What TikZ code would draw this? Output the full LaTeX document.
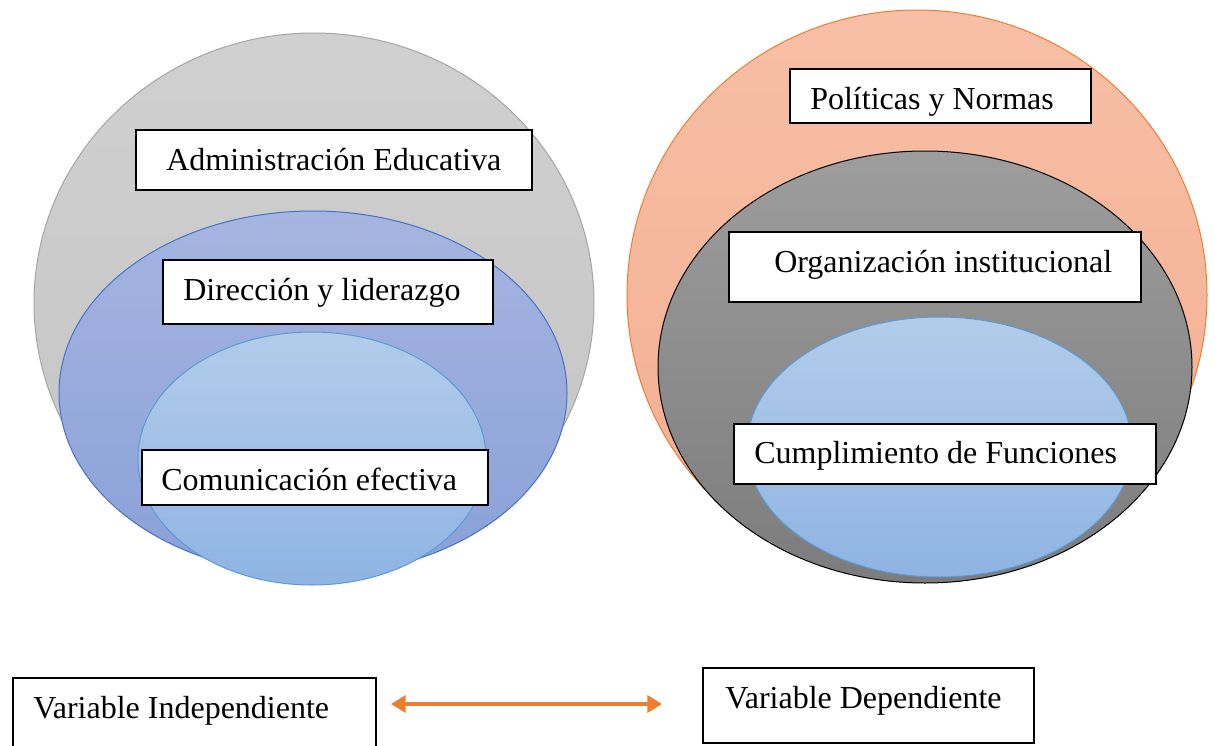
\documentclass[tikz,border=0pt]{standalone}
\usepackage{fontspec}
\setmainfont{Liberation Serif}
\usetikzlibrary{arrows.meta}
\definecolor{grayT}{RGB}{208,208,208}
\definecolor{grayB}{RGB}{196,196,196}
\definecolor{grayE}{RGB}{166,166,166}
\definecolor{blueT}{RGB}{166,181,225}
\definecolor{blueB}{RGB}{138,160,215}
\definecolor{blueE}{RGB}{68,114,196}
\definecolor{lblueT}{RGB}{178,204,234}
\definecolor{lblueB}{RGB}{143,180,227}
\definecolor{lblueE}{RGB}{91,155,213}
\definecolor{orT}{RGB}{247,191,166}
\definecolor{orB}{RGB}{243,174,144}
\definecolor{orE}{RGB}{237,125,49}
\definecolor{dgT}{RGB}{157,157,157}
\definecolor{dgB}{RGB}{124,124,124}
\tikzset{
  boxnode/.style={draw=black, line width=1.5pt, fill=white, rectangle, inner sep=0pt, anchor=north west},
  txt/.style={anchor=base west, inner sep=0pt, font=\fontsize{24}{28}\selectfont},
  twoway/.style={draw=orE, line width=3pt, {Triangle[width=12.75pt,length=11pt]}-{Triangle[width=12.75pt,length=11pt]}},
}
\begin{document}
\begin{tikzpicture}[x=0.75pt,y=-0.75pt]
\useasboundingbox (0,0) rectangle (1215,746);
\clip (0,0) rectangle (1215,746);
\fill[white] (0,0) rectangle (1215,746);
% left group
\shadedraw[top color=grayT, bottom color=grayB, draw=grayE, line width=0.75pt] (314,303) ellipse [x radius=210pt, y radius=202.5pt];
\shadedraw[top color=blueT, bottom color=blueB, draw=blueE, line width=0.75pt] (313,393) ellipse [x radius=190.5pt, y radius=136.5pt];
\shadedraw[top color=lblueT, bottom color=lblueB, draw=lblueE, line width=0.75pt] (312,458.5) ellipse [x radius=130.5pt, y radius=94.875pt];
% right group
\shadedraw[top color=orT, bottom color=orB, draw=orE, line width=0.75pt] (917,295) ellipse [x radius=217.5pt, y radius=213.75pt];
\shadedraw[top color=dgT, bottom color=dgB, draw=black, line width=0.75pt] (925,367) ellipse [x radius=200.25pt, y radius=162pt];
\shadedraw[top color=lblueT, bottom color=lblueB, draw=lblueE, line width=0.75pt] (939.5,447) ellipse [x radius=144.375pt, y radius=97.5pt];
% boxes
\node[boxnode, minimum width=297pt, minimum height=45pt] (adm) at (135,129) {};
\node[txt] (admt) at (166,170) {Administración Educativa};
\node[boxnode, minimum width=247.5pt, minimum height=48pt] (dir) at (162,259) {};
\node[txt] (dirt) at (183,300) {Dirección y liderazgo};
\node[boxnode, minimum width=259.5pt, minimum height=41.25pt] (com) at (141,449) {};
\node[txt] (comt) at (161,490) {Comunicación efectiva};
\node[boxnode, minimum width=225.75pt, minimum height=40.5pt] (pol) at (789,68) {};
\node[txt] (polt) at (810,109) {Políticas y Normas};
\node[boxnode, minimum width=309pt, minimum height=52.5pt] (org) at (728,231) {};
\node[txt] (orgt) at (774,272) {Organización institucional};
\node[boxnode, minimum width=316.5pt, minimum height=45pt] (cum) at (733,423) {};
\node[txt] (cumt) at (754,463) {Cumplimiento de Funciones};
\node[boxnode, minimum width=272.25pt, minimum height=62.25pt] (vi) at (12,677) {};
\node[txt] (vit) at (33,718) {Variable Independiente};
\node[boxnode, minimum width=248.25pt, minimum height=56.25pt] (vd) at (702,667) {};
\node[txt] (vdt) at (725,708) {Variable Dependiente};
% arrow
\coordinate (aL) at (391,704);
\coordinate (aR) at (662,704);
\draw[twoway] (aL) -- (aR);
\end{tikzpicture}
\end{document}
